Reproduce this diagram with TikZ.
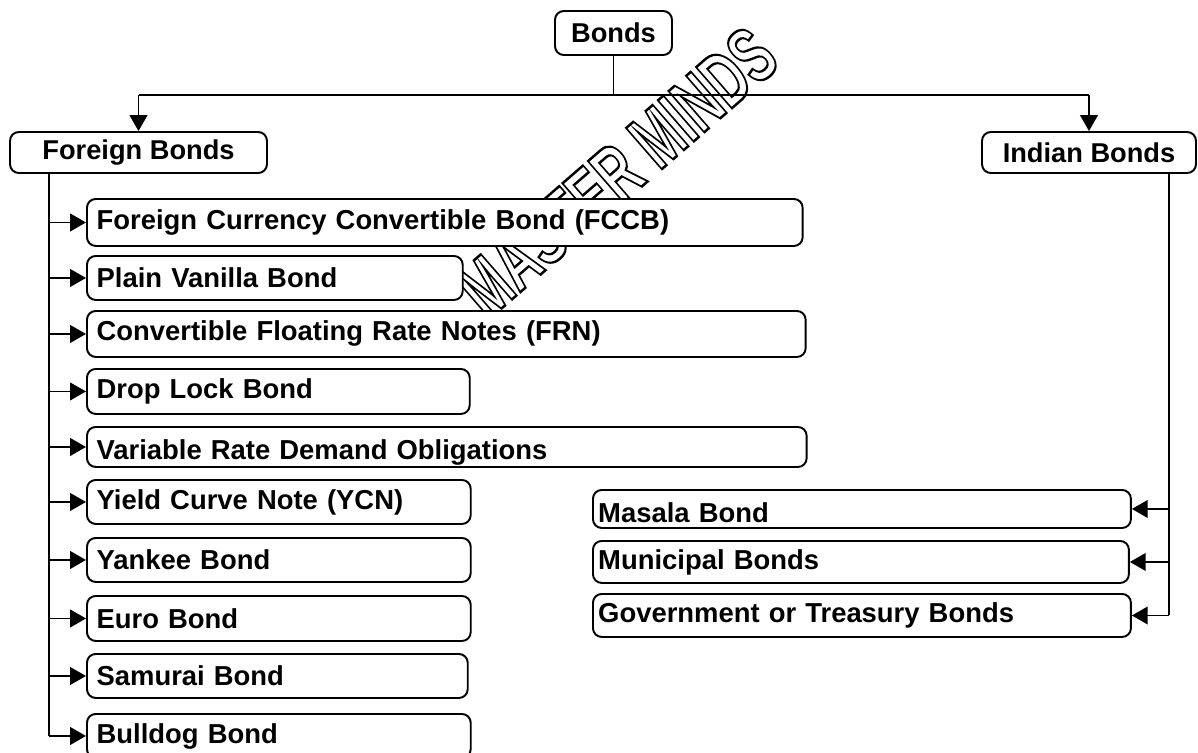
\documentclass[tikz,border=0pt]{standalone}
\usepackage{fontspec}
\setmainfont{Liberation Sans}
\usetikzlibrary{arrows.meta}
\begin{document}
\begin{tikzpicture}[x=0.02cm,y=-0.02cm,
  box/.style={draw, fill=white, rounded corners=5pt, line width=1.1pt,
    font=\bfseries\fontsize{15.6}{18}\selectfont, inner xsep=5.5pt, inner ysep=0pt,
    align=left, anchor=north west},
  ibox/.style={box, inner xsep=3pt},
  top/.style={draw, fill=white, rounded corners=5pt, line width=1.1pt,
    font=\bfseries\fontsize{15.5}{18}\selectfont, inner sep=0pt, align=center},
  conn/.style={line width=1.1pt},
  arr/.style={line width=1.1pt, -{Triangle[length=9pt,width=10pt]}},
  wmark/.style={font=\bfseries\fontsize{45}{50}\selectfont, inner sep=0pt}]
\useasboundingbox (0,0) rectangle (1198,752);
% watermark
\node[wmark, rotate=41] (wm) at (617,172)
  {\scalebox{0.64}[1]{\textcolor{white}{\special{pdf:literal direct 2 Tr 0 G 1.4 w}MASTER MINDS\special{pdf:literal direct 0 Tr}}}};
% top level
\node[top, minimum width=2.34cm, minimum height=0.88cm] (bonds) at (613.5,33) {Bonds};
\node[top, minimum width=5.14cm, minimum height=0.82cm] (fb) at (138.5,152.5) {Foreign Bonds};
\node[top, minimum width=4.28cm, minimum height=0.82cm] (ib) at (1089,152.5) {Indian Bonds};
% foreign children
\node[box, text width=13.93cm, minimum height=0.94cm] (b1) at (86,198) {Foreign Currency Convertible Bond (FCCB)};
\node[box, text width=7.13cm, minimum height=0.88cm] (b2) at (86,255) {Plain Vanilla Bond};
\node[box, text width=13.99cm, minimum height=0.92cm] (b3) at (86,310) {Convertible Floating Rate Notes (FRN)};
\node[box, text width=7.27cm, minimum height=0.90cm] (b4) at (86,368) {Drop Lock Bond};
\node[box, text width=14.01cm, minimum height=0.80cm] (b5) at (86,426) {\rule{0pt}{17pt}Variable Rate Demand Obligations};
\node[box, text width=7.29cm, minimum height=0.88cm] (b6) at (86,479) {Yield Curve Note (YCN)};
\node[box, text width=7.29cm, minimum height=0.88cm] (b7) at (86,537) {Yankee Bond};
\node[box, text width=7.29cm, minimum height=0.90cm] (b8) at (86,595) {Euro Bond};
\node[box, text width=7.23cm, minimum height=0.88cm] (b9) at (86,653) {Samurai Bond};
\node[box, text width=7.29cm, minimum height=0.88cm] (b10) at (86,713) {Bulldog Bond};
% indian children
\node[ibox, text width=10.55cm, minimum height=0.76cm] (i1) at (592,489) {\rule{0pt}{16pt}Masala Bond};
\node[ibox, text width=10.51cm, minimum height=0.84cm] (i2) at (592,540) {Municipal Bonds};
\node[ibox, text width=10.55cm, minimum height=0.86cm] (i3) at (592,593) {Government or Treasury Bonds};
% connectors
\coordinate (busy) at (0,95);
\draw[conn] (bonds.south) -- (bonds.south |- busy);
\draw[conn] (fb.north |- busy) -- (ib.north |- busy);
\draw[arr] (fb.north |- busy) -- (fb.north);
\draw[arr] (ib.north |- busy) -- (ib.north);
\path (fb.south west) ++(40,0) coordinate (fs);
\draw[conn] (fs) -- (fs |- b10.west);
\foreach \n in {b1,b2,b3,b4,b5,b6,b7,b8,b9,b10}
  \draw[arr] (fs |- \n.west) -- (\n.west);
\path (ib.south east) ++(-28,0) coordinate (is);
\draw[conn] (is) -- (is |- i3.east);
\foreach \n in {i1,i2,i3}
  \draw[arr] (is |- \n.east) -- (\n.east);
\end{tikzpicture}
\end{document}
